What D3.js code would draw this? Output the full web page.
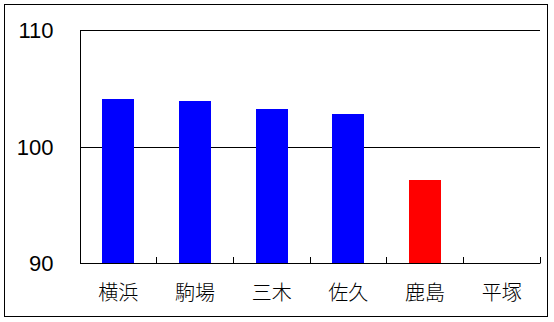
<!DOCTYPE html>
<html><head><meta charset="utf-8">
<script src="https://cdn.jsdelivr.net/npm/d3@7"></script>
<style>body{margin:0;background:#fff}svg{display:block}</style>
</head><body>
<script>
const categories = ["横浜","駒場","三木","佐久","鹿島","平塚"];
const values = [104.1, 103.95, 103.25, 102.8, 97.15, null];
const barColors = ["#0000ff","#0000ff","#0000ff","#0000ff","#ff0000","#0000ff"];
const yTicks = [90, 100, 110];

const W = 554, H = 322;
const svg = d3.select("body").append("svg").attr("width", W).attr("height", H);
svg.append("rect").attr("x",4.5).attr("y",4.5).attr("width",543).attr("height",312)
  .attr("fill","#fff").attr("stroke","#000").attr("stroke-width",1);

const x = d3.scaleBand().domain(categories).range([80,540]).padding(0);
const y = d3.scaleLinear().domain([90,110]).range([263.5,30.5]);
const bw = x.bandwidth();
const crisp = v => Math.floor(v) + 0.5;

// gridlines (100, 110)
svg.append("g").selectAll("line").data(yTicks.filter(t => t > 90)).join("line")
  .attr("x1",80).attr("x2",540).attr("y1",d=>crisp(y(d))).attr("y2",d=>crisp(y(d)))
  .attr("stroke","#000").attr("stroke-width",1);

// bars
const data = categories.map((c,i)=>({c, v: values[i], col: barColors[i]})).filter(d => d.v != null);
svg.append("g").selectAll("rect").data(data).join("rect")
  .attr("x", d => Math.round(x(d.c) + bw*0.29))
  .attr("width", Math.round(bw*0.42))
  .attr("y", d => Math.round(y(d.v)))
  .attr("height", d => 263 - Math.round(y(d.v)))
  .attr("fill", d => d.col);

// left axis
const ya = svg.append("g").attr("transform","translate(80.5,0)")
  .call(d3.axisLeft(y).tickValues(yTicks).tickSize(0).tickPadding(27).tickFormat(d3.format("d")));
ya.select(".domain").attr("d","M0,30.5V263.5").attr("stroke","#000");
ya.selectAll("text").attr("font-family","'Liberation Sans', Arial, sans-serif").attr("font-size",22).attr("fill","#000");

// bottom axis
const xa = svg.append("g").attr("transform","translate(0,263.5)")
  .call(d3.axisBottom(x).tickSize(0).tickPadding(0));
xa.select(".domain").attr("d","M80,0H540").attr("stroke","#000");
xa.selectAll("text").attr("font-family","'Noto Sans CJK JP', sans-serif").attr("font-size",20)
  .attr("font-weight",300).attr("fill","#000").attr("y",29).attr("dy","0.35em");

// category boundary ticks (pointing inward)
svg.append("g").selectAll("line").data(categories).join("line")
  .attr("x1", d => crisp(x(d) + bw)).attr("x2", d => crisp(x(d) + bw))
  .attr("y1", 257).attr("y2", 263.5).attr("stroke","#000").attr("stroke-width",1);
</script>
</body></html>
